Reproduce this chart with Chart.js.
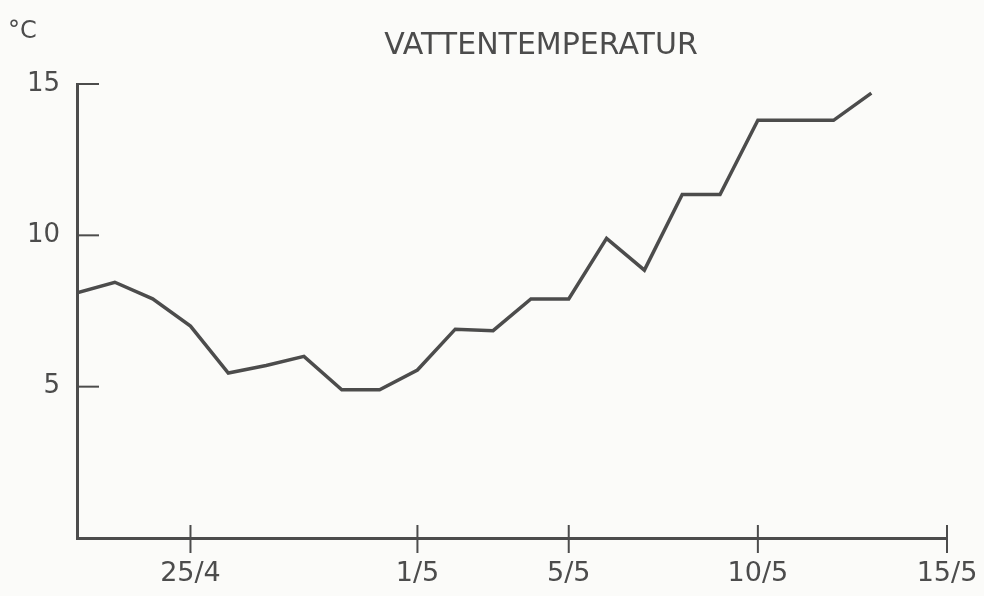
<!DOCTYPE html>
<html>
<head>
<meta charset="utf-8">
<title>Vattentemperatur</title>
<script src="https://cdn.jsdelivr.net/npm/chart.js@4.4.1/dist/chart.umd.min.js"></script>
<style>
  html, body { margin: 0; padding: 0; background: #fbfbf9; }
  #wrap { width: 984px; height: 596px; position: relative; }
</style>
</head>
<body>
<div id="wrap"><canvas id="tempChart"></canvas></div>
<script>
// data
const dates = ['22/4', '23/4', '24/4', '25/4', '26/4', '27/4', '28/4', '29/4', '30/4',
  '1/5', '2/5', '3/5', '4/5', '5/5', '6/5', '7/5', '8/5', '9/5', '10/5', '11/5', '12/5', '13/5'];
const temps = [8.1, 8.45, 7.9, 7.0, 5.45, 5.7, 6.0, 4.9, 4.9,
  5.55, 6.9, 6.85, 7.9, 7.9, 9.9, 8.85, 11.35, 11.35, 13.8, 13.8, 13.8, 14.7];
const xTickLabels = ['25/4', '1/5', '5/5', '10/5', '15/5'];
const yTickValues = [5, 10, 15];

const ink = '#4c4c4c';
const font = 'DejaVu Sans';

// days counted from 22/4
function dayIndex(label) {
  const [d, m] = label.split('/').map(Number);
  return m === 4 ? d - 22 : d + 8;
}

const points = dates.map((d, i) => ({ x: dayIndex(d), y: temps[i] }));

const handDrawn = {
  id: 'handDrawn',
  afterDraw(chart) {
    const ctx = chart.ctx;
    const xs = chart.scales.x;
    const ys = chart.scales.y;
    const x0 = xs.left;
    const y0 = ys.bottom;
    ctx.save();
    ctx.strokeStyle = ink;
    ctx.lineWidth = 2;
    // x ticks cross the axis
    xTickLabels.forEach(l => {
      const px = xs.getPixelForValue(dayIndex(l));
      ctx.beginPath();
      ctx.moveTo(px, y0 - 13);
      ctx.lineTo(px, y0 + 15);
      ctx.stroke();
    });
    // y ticks point inwards
    yTickValues.forEach(v => {
      const py = ys.getPixelForValue(v);
      ctx.beginPath();
      ctx.moveTo(x0, py);
      ctx.lineTo(x0 + 22, py);
      ctx.stroke();
    });
    ctx.fillStyle = ink;
    ctx.font = '30px "' + font + '"';
    ctx.textAlign = 'center';
    ctx.textBaseline = 'alphabetic';
    ctx.fillText('VATTENTEMPERATUR', 541, 54);
    ctx.font = '24px "' + font + '"';
    ctx.textAlign = 'left';
    ctx.fillText('°C', 8, 38);
    ctx.restore();
  }
};

new Chart(document.getElementById('tempChart'), {
  type: 'line',
  data: {
    datasets: [{
      label: 'Vattentemperatur',
      data: points,
      borderColor: ink,
      borderWidth: 3.5,
      pointRadius: 0,
      tension: 0,
      fill: false
    }]
  },
  options: {
    responsive: true,
    maintainAspectRatio: false,
    animation: false,
    layout: { padding: { left: 0, right: 37, top: 84, bottom: 0 } },
    plugins: {
      legend: { display: false },
      tooltip: { enabled: false }
    },
    scales: {
      x: {
        type: 'linear',
        min: 0,
        max: 23,
        afterBuildTicks: scale => {
          scale.ticks = xTickLabels.map(l => ({ value: dayIndex(l) }));
        },
        afterFit: scale => {
          scale.height = 58;
          scale.paddingLeft = 0;
          scale.paddingRight = 0;
        },
        grid: { display: false, drawTicks: false },
        border: { display: true, color: ink, width: 3 },
        ticks: {
          padding: 20,
          color: ink,
          font: { family: font, size: 27 },
          maxRotation: 0,
          autoSkip: false,
          callback: value => xTickLabels.find(l => dayIndex(l) === value) || ''
        }
      },
      y: {
        min: 0,
        max: 15,
        afterBuildTicks: scale => {
          scale.ticks = yTickValues.map(v => ({ value: v }));
        },
        afterFit: scale => { scale.width = 77; },
        grid: { display: false, drawTicks: false },
        border: { display: true, color: ink, width: 3 },
        ticks: {
          padding: 17,
          color: ink,
          font: { family: font, size: 26 }
        }
      }
    }
  },
  plugins: [handDrawn]
});
</script>
</body>
</html>
